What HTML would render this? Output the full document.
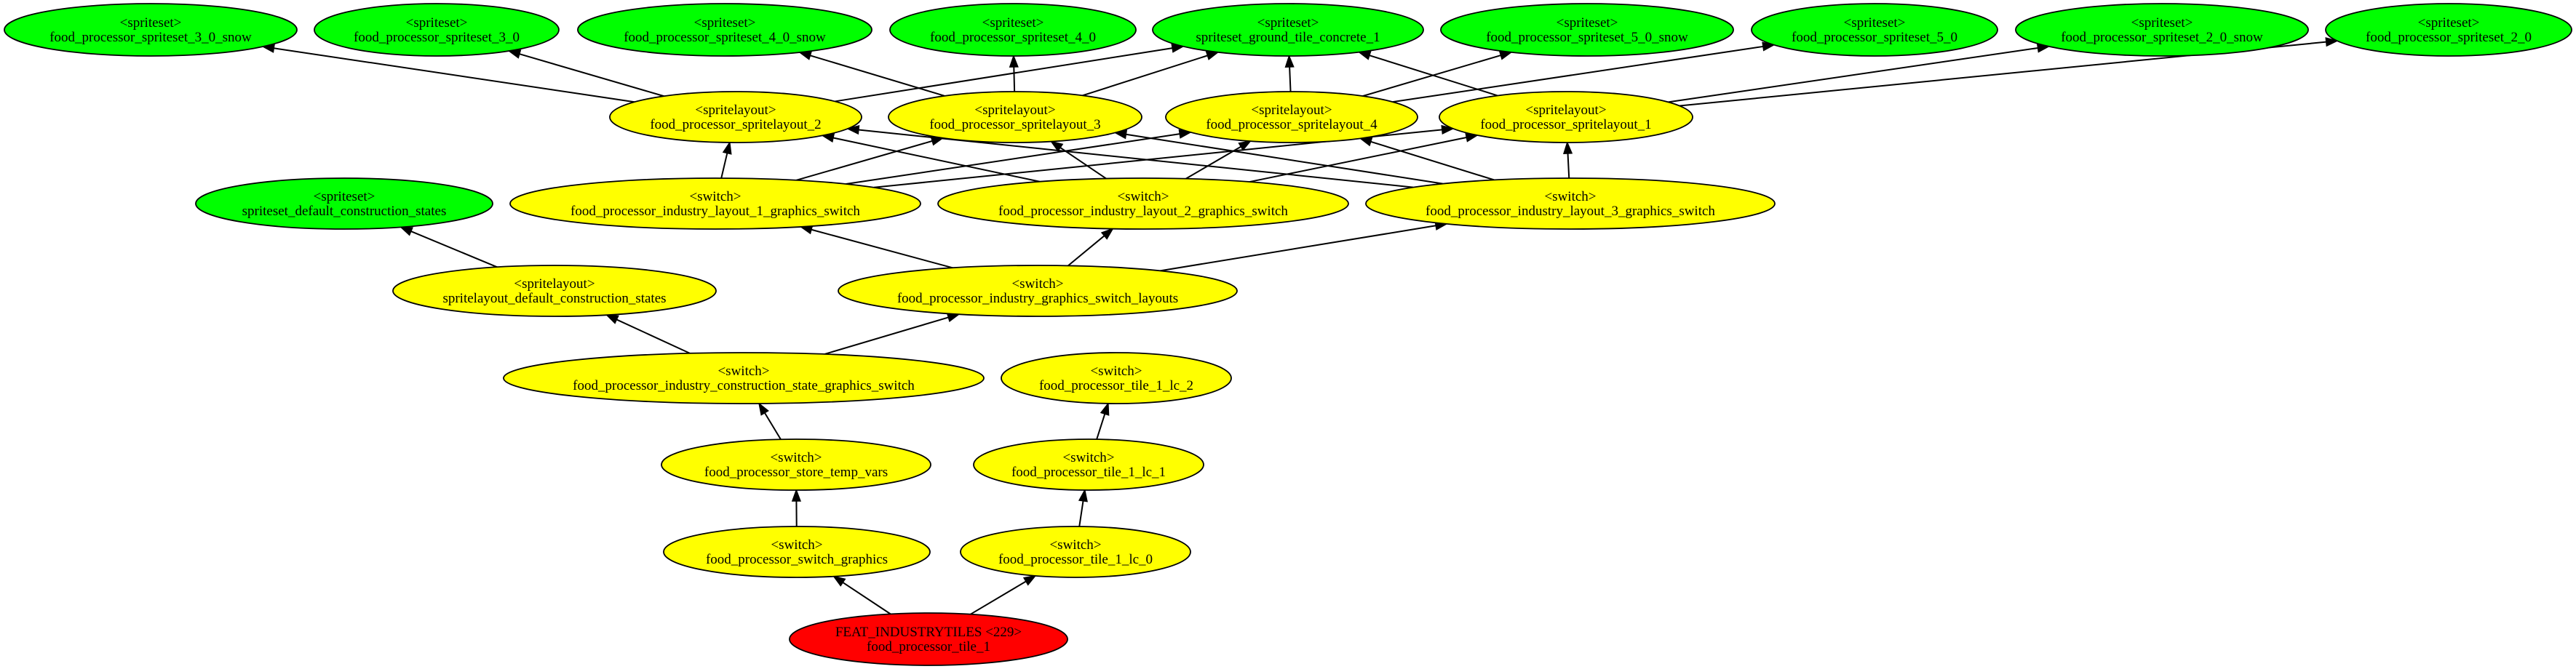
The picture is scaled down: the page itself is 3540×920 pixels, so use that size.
<!DOCTYPE html>
<html><head><meta charset="utf-8">
<style>
html,body{margin:0;padding:0;background:#fff;width:3540px;height:920px;overflow:hidden}
svg text{font-family:"Liberation Serif","Times New Roman",serif;font-size:19px;fill:#000;text-anchor:middle}
</style></head>
<body>
<svg id="g" width="3540" height="920" viewBox="0 0 3540 920" xmlns="http://www.w3.org/2000/svg">
<g id="edges"></g><g id="nodes"></g>
</svg>
<script>
var G="#00ff00",Y="#ffff00",R="#ff0000";
var N={
e1:[207,41,201,36,G,"<spriteset>","food_processor_spriteset_3_0_snow"],
e2:[600,41,168,36,G,"<spriteset>","food_processor_spriteset_3_0"],
e3:[996,41,202,36,G,"<spriteset>","food_processor_spriteset_4_0_snow"],
e4:[1392,41,169,36,G,"<spriteset>","food_processor_spriteset_4_0"],
e5:[1770,41,186,36,G,"<spriteset>","spriteset_ground_tile_concrete_1"],
e6:[2181,41,201,36,G,"<spriteset>","food_processor_spriteset_5_0_snow"],
e7:[2576,41,169,36,G,"<spriteset>","food_processor_spriteset_5_0"],
e8:[2971,41,201,36,G,"<spriteset>","food_processor_spriteset_2_0_snow"],
e9:[3365,41,169,36,G,"<spriteset>","food_processor_spriteset_2_0"],
l2:[1011,161,173,35,Y,"<spritelayout>","food_processor_spritelayout_2"],
l3:[1395,161,174,35,Y,"<spritelayout>","food_processor_spritelayout_3"],
l4:[1775,161,173,35,Y,"<spritelayout>","food_processor_spritelayout_4"],
l1:[2152,161,174,35,Y,"<spritelayout>","food_processor_spritelayout_1"],
sd:[473,280,204,35,G,"<spriteset>","spriteset_default_construction_states"],
s1:[983,280,282,35,Y,"<switch>","food_processor_industry_layout_1_graphics_switch"],
s2:[1571,280,282,35,Y,"<switch>","food_processor_industry_layout_2_graphics_switch"],
s3:[2158,280,281,35,Y,"<switch>","food_processor_industry_layout_3_graphics_switch"],
ld:[762,400,222,35,Y,"<spritelayout>","spritelayout_default_construction_states"],
gl:[1426,400,274,35,Y,"<switch>","food_processor_industry_graphics_switch_layouts"],
cs:[1022,520,330,35,Y,"<switch>","food_processor_industry_construction_state_graphics_switch"],
t2:[1534,520,158,35,Y,"<switch>","food_processor_tile_1_lc_2"],
st:[1094,639,185,35,Y,"<switch>","food_processor_store_temp_vars"],
t1:[1496,639,158,35,Y,"<switch>","food_processor_tile_1_lc_1"],
sg:[1095,759,183,35,Y,"<switch>","food_processor_switch_graphics"],
t0:[1478,759,158,35,Y,"<switch>","food_processor_tile_1_lc_0"],
rd:[1276,879,191,36,R,"FEAT_INDUSTRYTILES <229>","food_processor_tile_1"]
};
var E=[["l2","e1"],["l2","e2"],["l2","e5"],["l3","e3"],["l3","e4"],["l3","e5"],
["l4","e5"],["l4","e6"],["l4","e7"],["l1","e5"],["l1","e8"],["l1","e9"],
["s1","l2"],["s1","l3"],["s1","l4"],["s1","l1"],["s2","l2"],["s2","l3"],["s2","l4"],["s2","l1"],
["s3","l2"],["s3","l3"],["s3","l4"],["s3","l1"],["gl","s1"],["gl","s2"],["gl","s3"],
["cs","ld"],["cs","gl"],["ld","sd"],["st","cs"],["sg","st"],["rd","sg"],["rd","t0"],["t0","t1"],["t1","t2"]];
var NS="http://www.w3.org/2000/svg";
function el(t,a,p){var e=document.createElementNS(NS,t);for(var k in a)e.setAttribute(k,a[k]);p.appendChild(e);return e;}
function bnd(n,dx,dy){var s=1/Math.sqrt(dx*dx/(n[2]*n[2])+dy*dy/(n[3]*n[3]));return [n[0]+dx*s,n[1]+dy*s];}
var eg=document.getElementById("edges"),ng=document.getElementById("nodes");
E.forEach(function(p){var a=N[p[0]],b=N[p[1]];
var dx=b[0]-a[0],dy=b[1]-a[1];
var s=bnd(a,dx,dy),t=bnd(b,-dx,-dy);
var L=Math.hypot(t[0]-s[0],t[1]-s[1]),ux=(t[0]-s[0])/L,uy=(t[1]-s[1])/L;
var bx=t[0]-ux*15,by=t[1]-uy*15;
el("line",{x1:s[0],y1:s[1],x2:bx,y2:by,stroke:"#000","stroke-width":2},eg);
el("polygon",{points:t[0]+","+t[1]+" "+(bx-uy*5.5)+","+(by+ux*5.5)+" "+(bx+uy*5.5)+","+(by-ux*5.5),fill:"#000",stroke:"#000","stroke-width":1.5},eg);
});
for(var k in N){var n=N[k];
el("ellipse",{cx:n[0],cy:n[1],rx:n[2],ry:n[3],fill:n[4],stroke:"#000","stroke-width":1.8},ng);
var t1=el("text",{x:n[0],y:n[1]-4},ng);t1.textContent=n[5];
var t2=el("text",{x:n[0],y:n[1]+16},ng);t2.textContent=n[6];}
</script>
</body></html>
